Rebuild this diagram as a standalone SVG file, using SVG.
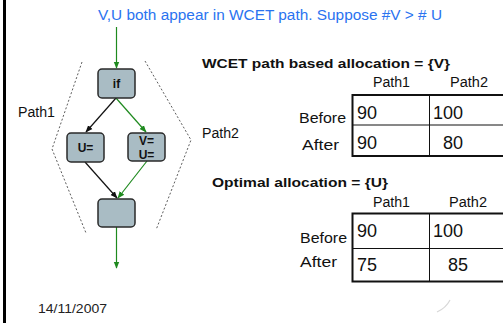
<svg xmlns="http://www.w3.org/2000/svg" width="503" height="323" viewBox="0 0 503 323">
<style>
text{font-family:"Liberation Sans","DejaVu Sans",sans-serif;fill:#111}
.box{fill:#a9bcc4;stroke:#2a2a2a;stroke-width:1.5}
.lbl{font-size:12px;font-weight:bold;text-anchor:middle}
.g{stroke:#1f8a1f;stroke-width:1.2;fill:none}
.k{stroke:#111;stroke-width:1.2;fill:none}
.dash{stroke:#333;stroke-width:0.8;fill:none;stroke-dasharray:2,2}
.hd{font-size:13px;font-weight:bold}
.sm{font-size:14px}
.num{font-size:18px}
.tbo{fill:none;stroke:#111;stroke-width:2}
.tbi{stroke:#111;stroke-width:1}
</style>
<defs>
<marker id="ag" viewBox="0 0 10 10" refX="9" refY="5" markerWidth="6" markerHeight="6" orient="auto"><path d="M0,1 L10,5 L0,9 z" fill="#1f8a1f"/></marker>
<marker id="ak" viewBox="0 0 10 10" refX="9" refY="5" markerWidth="6" markerHeight="6" orient="auto"><path d="M0,1 L10,5 L0,9 z" fill="#111"/></marker>
</defs>
<rect x="0" y="0" width="503" height="323" fill="#fff"/>
<rect x="3" y="0" width="3" height="323" fill="#000"/>
<text x="98" y="20" font-size="14" fill="#2a73f0" style="fill:#2a73f0" textLength="344" lengthAdjust="spacingAndGlyphs">V,U both appear in WCET path. Suppose #V &gt; # U</text>
<g id="connectors">
<line class="g" x1="116.5" y1="27" x2="116.5" y2="68" marker-end="url(#ag)"/>
<line class="k" x1="116" y1="98" x2="86" y2="132" marker-end="url(#ak)"/>
<line class="g" x1="116" y1="98" x2="146" y2="132" marker-end="url(#ag)"/>
<line class="k" x1="85" y1="162" x2="117" y2="198" marker-end="url(#ak)"/>
<line class="g" x1="147" y1="161" x2="118" y2="198" marker-end="url(#ag)"/>
<line class="g" x1="116.5" y1="227" x2="116.5" y2="268" marker-end="url(#ag)"/>
<polyline class="dash" points="82,62 52,149 86,233"/>
<polyline class="dash" points="145,61 191,140 156,230"/>
</g>
<g id="n-if"><rect class="box" x="98" y="69" width="37" height="29" rx="4"/><text class="lbl" x="116.5" y="88">if</text></g>
<g id="n-u"><rect class="box" x="67" y="133" width="37" height="29" rx="4"/><text class="lbl" x="85.5" y="152">U=</text></g>
<g id="n-vu"><rect class="box" x="128" y="133" width="37" height="28" rx="4"/><text class="lbl" x="146.5" y="145">V=</text><text class="lbl" x="146.5" y="159">U=</text></g>
<g id="n-end"><rect class="box" x="98" y="199" width="37" height="28" rx="4"/></g>
<text class="sm" x="18" y="117" textLength="37" lengthAdjust="spacingAndGlyphs">Path1</text>
<text class="sm" x="202" y="138" textLength="37" lengthAdjust="spacingAndGlyphs">Path2</text>
<g id="table1">
<text class="hd" x="202" y="68" textLength="248" lengthAdjust="spacingAndGlyphs">WCET path based allocation = {V}</text>
<text class="sm" x="373" y="87" textLength="37" lengthAdjust="spacingAndGlyphs">Path1</text>
<text class="sm" x="450" y="87" textLength="38" lengthAdjust="spacingAndGlyphs">Path2</text>
<text class="sm" x="299" y="123" textLength="47" lengthAdjust="spacingAndGlyphs">Before</text>
<text class="sm" x="302" y="150" textLength="37" lengthAdjust="spacingAndGlyphs">After</text>
<rect class="tbo" x="352.5" y="95" width="160" height="61"/>
<line class="tbi" x1="352.5" y1="125" x2="503" y2="125"/>
<line class="tbi" x1="429.5" y1="95" x2="429.5" y2="156"/>
<text class="num" x="357" y="119">90</text>
<text class="num" x="433" y="119">100</text>
<text class="num" x="357" y="149">90</text>
<text class="num" x="443" y="149">80</text>
</g>
<g id="table2">
<text class="hd" x="212" y="187" textLength="176" lengthAdjust="spacingAndGlyphs">Optimal allocation  = {U}</text>
<text class="sm" x="373" y="207" textLength="37" lengthAdjust="spacingAndGlyphs">Path1</text>
<text class="sm" x="449" y="207" textLength="38" lengthAdjust="spacingAndGlyphs">Path2</text>
<text class="sm" x="300" y="243" textLength="47" lengthAdjust="spacingAndGlyphs">Before</text>
<text class="sm" x="300" y="267" textLength="37" lengthAdjust="spacingAndGlyphs">After</text>
<rect class="tbo" x="352.5" y="213.5" width="160" height="68"/>
<line class="tbi" x1="352.5" y1="248.5" x2="503" y2="248.5"/>
<line class="tbi" x1="429.5" y1="213.5" x2="429.5" y2="281.5"/>
<text class="num" x="357" y="237">90</text>
<text class="num" x="433" y="237">100</text>
<text class="num" x="357" y="271">75</text>
<text class="num" x="448" y="271">85</text>
</g>
<path d="M450,300 Q446,308 437,312" fill="none" stroke="#d8d8d8" stroke-width="1.2"/>
<text x="38" y="313" font-size="12" style="fill:#222" textLength="69" lengthAdjust="spacingAndGlyphs">14/11/2007</text>
</svg>
